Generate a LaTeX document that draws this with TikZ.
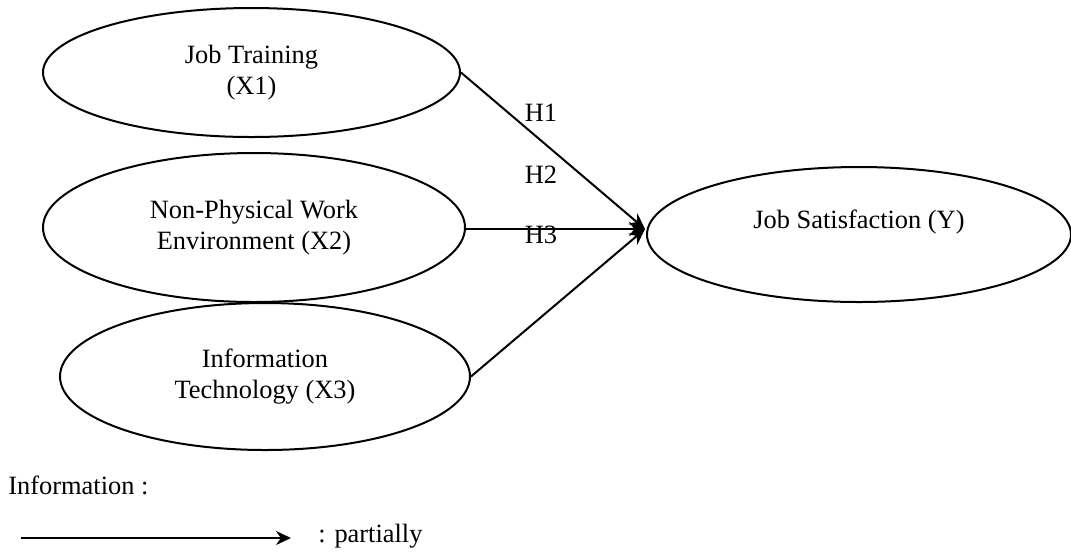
\documentclass[tikz,border=0pt]{standalone}
\usepackage{fontspec}
\setmainfont{Liberation Serif}
\usetikzlibrary{arrows.meta,positioning,shapes.geometric}
\tikzset{construct/.style={
    % The shape:
    ellipse,
    % The border:
    draw=black,
    line width=1pt,
    % Font
    align=center,
    font=\fontsize{13.2}{15.5}\selectfont
    },
    hyp/.style={
    font=\fontsize{13.2}{15.5}\selectfont,
    inner sep=0pt
    },
    hpath/.style={
    line width=1pt,
    -{Stealth[length=8pt,width=7pt]}
    },
}

\begin{document}
\begin{tikzpicture}[x=0.5pt,y=-0.5pt]
    \useasboundingbox (0,0) rectangle (1071,554);
    \node (x1) [construct,minimum width=208.5pt,minimum height=64.5pt] at (251.5,72.5) {Job Training\\(X1)};
    \node (x2) [construct,minimum width=211pt,minimum height=74.5pt] at (254,227.5) {Non-Physical Work\\Environment (X2)};
    \node (x3) [construct,minimum width=205pt,minimum height=73.5pt] at (265,376.5) {Information\\Technology (X3)};
    \node (y)  [construct,minimum width=212pt,minimum height=67.5pt] at (859,234.5) {Job Satisfaction (Y)\\\mbox{}};
    \coordinate (meet) at (645,229);

    \node (h1) [hyp] at (541,113) {H1};
    \node (h2) [hyp] at (541,175) {H2};
    \node (h3) [hyp] at (541,235) {H3};

    \draw[hpath] (x1.east) -- (meet);
    \draw[hpath] (x2.east |- meet) -- (meet);
    \draw[hpath] (x3.east) -- (meet);

    % legend
    \node (info) [hyp,anchor=west] at (8,485) {Information :};
    \coordinate (leg1) at (21,538);
    \coordinate (leg2) at (291,538);
    \draw[line width=0.65pt,-{Stealth[length=7.5pt,width=7pt]}] (leg1) -- (leg2);
    \node (part) [hyp,anchor=west] at (318,536) {: partially};
\end{tikzpicture}
\end{document}
